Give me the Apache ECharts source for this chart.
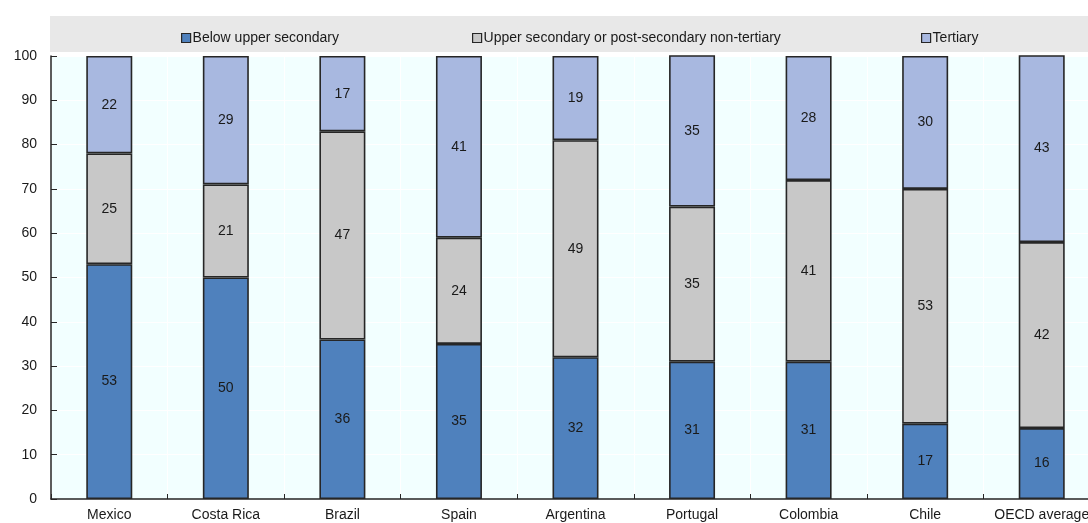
<!DOCTYPE html>
<html>
<head>
<meta charset="utf-8">
<script src="https://cdn.jsdelivr.net/npm/echarts@6/dist/echarts.min.js"></script>
<style>
  html, body { margin: 0; padding: 0; background: #ffffff; }
  #chart { width: 1088px; height: 523px; }
</style>
</head>
<body>
<div id="chart"></div>
<script>
// Share of adults by educational attainment, per country (%)
const categories = ['Mexico', 'Costa Rica', 'Brazil', 'Spain', 'Argentina', 'Portugal', 'Colombia', 'Chile', 'OECD average'];
const belowUpperSecondary = [53, 50, 36, 35, 32, 31, 31, 17, 16];
const upperSecondary = [25, 21, 47, 24, 49, 35, 41, 53, 42];
const tertiary = [22, 29, 17, 41, 19, 35, 28, 30, 43];
const yTicks = { min: 0, max: 100, interval: 10 };

const seriesNames = ['Below upper secondary', 'Upper secondary or post-secondary non-tertiary', 'Tertiary'];
const colors = ['#4f81bd', '#c8c8c8', '#a8b8e0'];
const FONT = 'Liberation Sans, Arial, sans-serif';
const FS = 14;

const chart = echarts.init(document.getElementById('chart'), null, { renderer: 'canvas' });

function makeSeries(name, data, color) {
  return {
    name: name,
    type: 'bar',
    stack: 'total',
    data: data,
    barWidth: 46,
    itemStyle: { color: color, borderColor: '#262626', borderWidth: 1.6 },
    label: {
      show: true,
      position: 'inside',
      color: '#1a1a1a',
      fontFamily: FONT,
      fontSize: FS
    },
    emphasis: { disabled: true }
  };
}

function legendAt(left, name) {
  return {
    left: left,
    top: 26,
    data: [name],
    itemWidth: 9,
    itemHeight: 9,
    itemGap: 0,
    icon: 'rect',
    selectedMode: false,
    itemStyle: { borderColor: '#262626', borderWidth: 1.2 },
    textStyle: { color: '#1a1a1a', fontFamily: FONT, fontSize: FS, padding: [0, 0, 0, -3] }
  };
}

chart.setOption({
  animation: false,
  graphic: [
    { type: 'rect', left: 50, top: 16, shape: { width: 1040, height: 36 }, style: { fill: '#e8e8e8' }, z: -1 }
  ],
  legend: [
    legendAt(176, seriesNames[0]),
    legendAt(467, seriesNames[1]),
    legendAt(916, seriesNames[2])
  ],
  grid: {
    left: 51, width: 1049, top: 56, height: 443,
    outerBoundsMode: 'none', containLabel: false,
    backgroundColor: '#f2ffff', show: true, borderWidth: 0
  },
  xAxis: {
    type: 'category',
    data: categories,
    axisLine: { lineStyle: { color: '#262626', width: 1.5 } },
    axisTick: { show: true, inside: true, length: 5, lineStyle: { color: '#262626' } },
    axisLabel: { color: '#1a1a1a', fontFamily: FONT, fontSize: FS, margin: 9, interval: 0 },
    splitLine: { show: true, lineStyle: { color: '#ffffff', width: 1 } }
  },
  yAxis: {
    type: 'value',
    min: yTicks.min,
    max: yTicks.max,
    interval: yTicks.interval,
    axisLine: { show: true, lineStyle: { color: '#262626', width: 1.5 } },
    axisTick: { show: true, inside: true, length: 6, lineStyle: { color: '#262626' } },
    axisLabel: { color: '#1a1a1a', fontFamily: FONT, fontSize: FS, margin: 14 },
    splitLine: { show: true, lineStyle: { color: '#ffffff', width: 1 } }
  },
  series: [
    makeSeries(seriesNames[0], belowUpperSecondary, colors[0]),
    makeSeries(seriesNames[1], upperSecondary, colors[1]),
    makeSeries(seriesNames[2], tertiary, colors[2])
  ]
});
</script>
</body>
</html>
